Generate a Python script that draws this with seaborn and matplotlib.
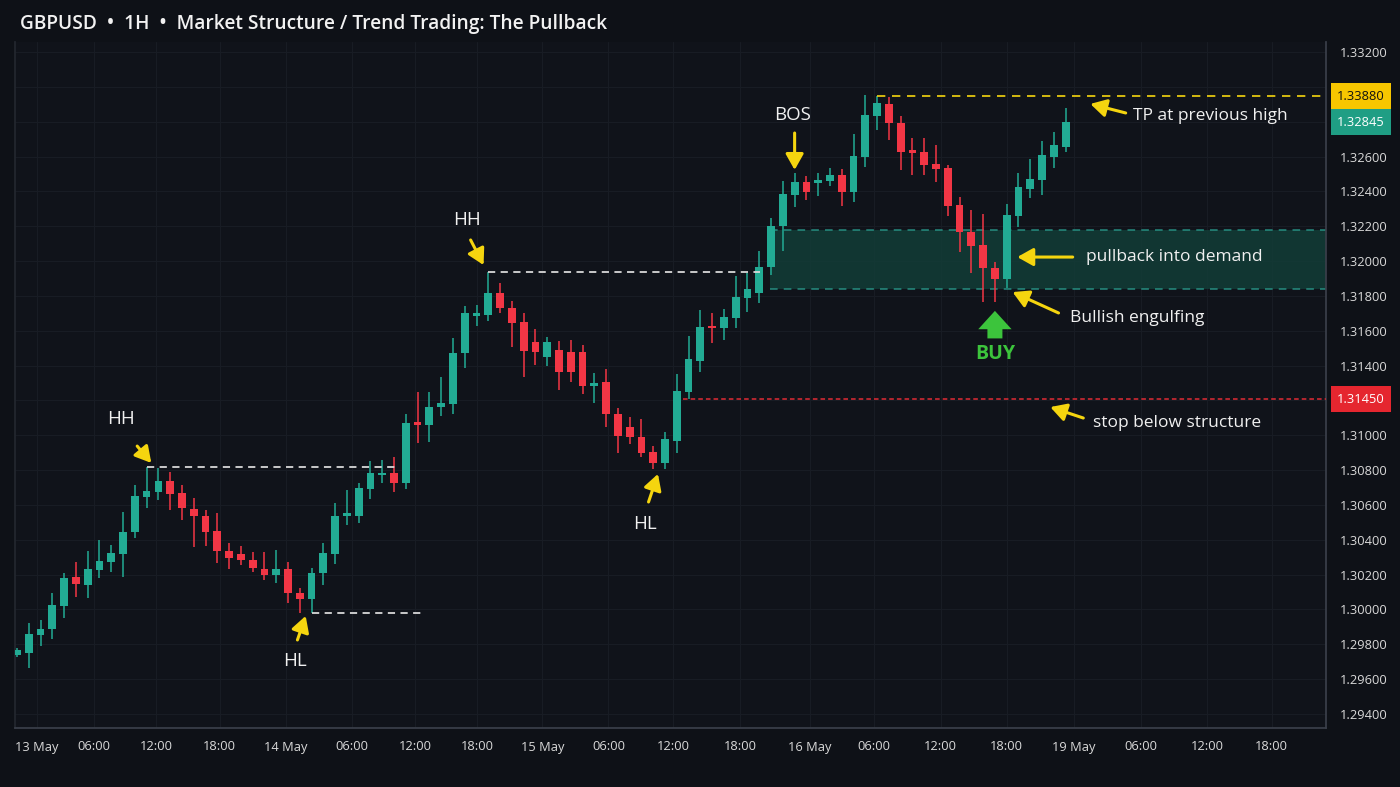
import matplotlib
matplotlib.use("Agg")
import matplotlib.pyplot as plt
import numpy as np
import pandas as pd
import seaborn as sns

# %% data (GBPUSD 1H candles)
opens = [
    1.29739, 1.29750, 1.29854, 1.29888, 1.30020, 1.30186, 1.30141, 1.30227, 1.30273, 1.30319,
    1.30445, 1.30646, 1.30674, 1.30738, 1.30669, 1.30577, 1.30537, 1.30451, 1.30336, 1.30319,
    1.30284, 1.30232, 1.30198, 1.30232, 1.30095, 1.30060, 1.30209, 1.30319, 1.30537, 1.30537,
    1.30692, 1.30772, 1.30783, 1.30726, 1.31076, 1.31059, 1.31162, 1.31180, 1.31472, 1.31685,
    1.31690, 1.31817, 1.31731, 1.31650, 1.31535, 1.31449, 1.31489, 1.31478, 1.31478, 1.31283,
    1.31306, 1.31122, 1.31047, 1.30990, 1.30904, 1.30841, 1.30967, 1.31248, 1.31426, 1.31627,
    1.31616, 1.31673, 1.31788, 1.31817, 1.31966, 1.32201, 1.32379, 1.32454, 1.32448, 1.32460,
    1.32494, 1.32396, 1.32597, 1.32833, 1.32902, 1.32792, 1.32637, 1.32626, 1.32557, 1.32534,
    1.32322, 1.32167, 1.32092, 1.31960, 1.31897, 1.32259, 1.32414, 1.32465, 1.32597, 1.32655]
closes = [
    1.29767, 1.29859, 1.29888, 1.30026, 1.30181, 1.30146, 1.30232, 1.30278, 1.30324, 1.30445,
    1.30651, 1.30680, 1.30738, 1.30663, 1.30583, 1.30537, 1.30445, 1.30336, 1.30296, 1.30284,
    1.30238, 1.30198, 1.30232, 1.30095, 1.30060, 1.30209, 1.30324, 1.30537, 1.30554, 1.30697,
    1.30783, 1.30783, 1.30726, 1.31070, 1.31059, 1.31162, 1.31185, 1.31472, 1.31702, 1.31702,
    1.31817, 1.31731, 1.31644, 1.31484, 1.31478, 1.31535, 1.31363, 1.31363, 1.31283, 1.31300,
    1.31122, 1.30996, 1.30990, 1.30898, 1.30841, 1.30979, 1.31254, 1.31438, 1.31621, 1.31616,
    1.31679, 1.31794, 1.31840, 1.31966, 1.32201, 1.32385, 1.32454, 1.32396, 1.32465, 1.32494,
    1.32396, 1.32603, 1.32838, 1.32907, 1.32792, 1.32626, 1.32620, 1.32551, 1.32528, 1.32316,
    1.32167, 1.32086, 1.31960, 1.31897, 1.32264, 1.32425, 1.32471, 1.32609, 1.32666, 1.32798]
highs = [
    1.29779, 1.29922, 1.29940, 1.30095, 1.30209, 1.30273, 1.30336, 1.30399, 1.30370, 1.30560,
    1.30715, 1.30818, 1.30812, 1.30789, 1.30715, 1.30640, 1.30571, 1.30554, 1.30382, 1.30364,
    1.30330, 1.30330, 1.30341, 1.30273, 1.30123, 1.30238, 1.30382, 1.30611, 1.30686, 1.30726,
    1.30852, 1.30858, 1.30875, 1.31122, 1.31248, 1.31248, 1.31334, 1.31558, 1.31742, 1.31748,
    1.31937, 1.31874, 1.31771, 1.31702, 1.31610, 1.31564, 1.31541, 1.31547, 1.31518, 1.31357,
    1.31380, 1.31157, 1.31105, 1.31093, 1.30938, 1.31019, 1.31352, 1.31570, 1.31719, 1.31702,
    1.31725, 1.31914, 1.31931, 1.32058, 1.32247, 1.32460, 1.32505, 1.32488, 1.32505, 1.32534,
    1.32528, 1.32729, 1.32953, 1.32947, 1.32942, 1.32833, 1.32706, 1.32706, 1.32666, 1.32551,
    1.32368, 1.32293, 1.32270, 1.31995, 1.32328, 1.32505, 1.32586, 1.32689, 1.32741, 1.32879]
lows = [
    1.29727, 1.29664, 1.29790, 1.29831, 1.29951, 1.30072, 1.30066, 1.30181, 1.30215, 1.30186,
    1.30410, 1.30583, 1.30628, 1.30571, 1.30514, 1.30359, 1.30364, 1.30267, 1.30232, 1.30255,
    1.30215, 1.30169, 1.30152, 1.30037, 1.29980, 1.29980, 1.30141, 1.30261, 1.30485, 1.30496,
    1.30634, 1.30726, 1.30674, 1.30692, 1.30956, 1.30961, 1.31111, 1.31122, 1.31386, 1.31627,
    1.31656, 1.31702, 1.31507, 1.31334, 1.31403, 1.31398, 1.31260, 1.31306, 1.31237, 1.31185,
    1.31047, 1.30898, 1.30950, 1.30875, 1.30806, 1.30806, 1.30898, 1.31208, 1.31363, 1.31530,
    1.31547, 1.31616, 1.31708, 1.31759, 1.31920, 1.32058, 1.32310, 1.32350, 1.32373, 1.32431,
    1.32316, 1.32339, 1.32540, 1.32752, 1.32695, 1.32523, 1.32494, 1.32494, 1.32454, 1.32259,
    1.32052, 1.31931, 1.31765, 1.31765, 1.31845, 1.32195, 1.32362, 1.32379, 1.32534, 1.32626]

time_labels = ["13 May", "06:00", "12:00", "18:00", "14 May", "06:00", "12:00", "18:00",
               "15 May", "06:00", "12:00", "18:00", "16 May", "06:00", "12:00", "18:00",
               "19 May", "06:00", "12:00", "18:00"]
# where each time label sits, in candle-index units
time_ticks = [1.66, 6.54, 11.8, 17.2, 22.8, 28.4, 33.8, 39.05, 44.6, 50.2,
              55.7, 61.4, 67.3, 72.75, 78.4, 84.0, 89.7, 95.4, 101.0, 106.5]
price_ticks = [1.294, 1.296, 1.298, 1.300, 1.302, 1.304, 1.306, 1.308, 1.310, 1.312,
               1.314, 1.316, 1.318, 1.320, 1.322, 1.324, 1.326, 1.328, 1.330, 1.332]
hidden_ticks = [1.312, 1.328]   # covered by the price tags in the original

hh1_level = 1.30818
hl1_level = 1.29980
hh2_level = 1.31937
tp_level = 1.32947
stop_level = 1.31208
zone_low, zone_high = 1.31840, 1.32178
tp_label, last_label, stop_label = "1.33880", "1.32845", "1.31450"

df = pd.DataFrame({"open": opens, "high": highs, "low": lows, "close": closes})
df["idx"] = np.arange(len(df))
df["up"] = df["close"] >= df["open"]

# %% style
BG = "#0e1117"
PANEL = "#10131a"
GREEN = "#22ab94"
RED = "#f23645"
YELLOW = "#f5d50f"
TXT = "#f0f0f0"

sns.set_theme(style="dark", rc={"axes.facecolor": PANEL, "figure.facecolor": BG,
                                "grid.color": "#1a1e27", "axes.edgecolor": "#2e333d"})
plt.rcParams["font.family"] = ["Open Sans", "DejaVu Sans"]

fig = plt.figure(figsize=(14, 7.87), dpi=100)
ax = fig.add_axes([15 / 1400, 59 / 787, 1311 / 1400, 686 / 787])
ax.set_facecolor(PANEL)

# candles
colors = np.where(df["up"], GREEN, RED)
ax.vlines(df["idx"], df["low"], df["high"], colors=colors, lw=1.1, zorder=3)
body_lo = np.minimum(df["open"], df["close"])
body_h = np.maximum((df["close"] - df["open"]).abs(), 0.00004)
ax.bar(df["idx"], body_h, bottom=body_lo, width=0.66, color=colors, lw=0, zorder=4)

xmax = 111.1
# demand zone
ax.fill_between([63.9, xmax], zone_low, zone_high, color="#123f39", alpha=0.8, lw=0, zorder=1)
for lvl in (zone_low, zone_high):
    ax.plot([63.9, xmax], [lvl, lvl], color="#2a9d8f", lw=1.1, ls=(0, (5, 4)), alpha=0.85, zorder=2)

# structure lines
dash = (0, (4, 3))
ax.plot([11, 32.1], [hh1_level] * 2, color="#d8d8d8", lw=1.3, ls=dash, zorder=5)
ax.plot([25, 34.5], [hl1_level] * 2, color="#d8d8d8", lw=1.3, ls=dash, zorder=5)
ax.plot([40, 63.1], [hh2_level] * 2, color="#d8d8d8", lw=1.3, ls=dash, zorder=5)
ax.plot([73, xmax], [tp_level] * 2, color=YELLOW, lw=1.2, ls=(0, (5, 4)), zorder=5)
ax.plot([56.5, xmax], [stop_level] * 2, color="#e02b35", lw=1.1, ls=(0, (3, 2)), zorder=5)

# axes
ax.set_xlim(-0.17, xmax)
ax.set_ylim(1.293197, 1.332574)
ax.set_xticks(time_ticks)
ax.set_xticklabels(time_labels)
ax.set_yticks(price_ticks)
ax.set_yticklabels(["" if p in hidden_ticks else f"{p:.5f}" for p in price_ticks])
ax.yaxis.tick_right()
ax.tick_params(axis="y", length=0, pad=10, labelsize=9.3, labelcolor="#d9d9d9")
ax.tick_params(axis="x", length=0, pad=9, labelsize=9.3, labelcolor="#d9d9d9")
ax.grid(True, color="#181c24", lw=0.8)
ax.set_axisbelow(True)
ax.spines["top"].set_visible(False)
ax.spines["left"].set_color("#23272f")
ax.spines["right"].set_color("#3a3f4a")
ax.spines["bottom"].set_color("#3a3f4a")

# price tags on the axis
trans = ax.get_yaxis_transform()
for lvl, txt, fc, tc in [(tp_level, tp_label, "#f7c600", "#111111"),
                         (closes[-1], last_label, "#1f9e84", "white"),
                         (stop_level, stop_label, "#e5262f", "white")]:
    ax.text(1.0085, lvl, txt, transform=trans, ha="left", va="center", fontsize=9.3,
            color=tc, clip_on=False, zorder=10,
            bbox=dict(boxstyle="square,pad=0.5", fc=fc, ec="none"))

# annotations
arrow = dict(arrowstyle="-|>,head_length=0.8,head_width=0.45", color=YELLOW, lw=2.2,
             shrinkA=0, shrinkB=0)
notes = [("HH", (8.8, 1.31093), (10.2, 1.30938), (11.4, 1.30841)),
         ("HL", (23.6, 1.29704), (23.8, 1.29825), (24.5, 1.29963)),
         ("HH", (38.2, 1.32236), (38.5, 1.32121), (39.6, 1.31977)),
         ("HL", (53.3, 1.30491), (53.6, 1.30617), (54.4, 1.30778)),
         ("BOS", (65.8, 1.32838), (66.0, 1.32735), (66.0, 1.32523))]
for label, tpos, tail, head in notes:
    ax.text(*tpos, label, ha="center", va="center", fontsize=13.5, fontweight="medium",
            color=TXT, zorder=8)
    ax.annotate("", xy=head, xytext=tail, arrowprops=arrow, zorder=8)

side_notes = [("TP at previous high", (94.7, 1.32833), (94.1, 1.32850), (91.1, 1.32902)),
              ("pullback into demand", (90.7, 1.32023), (89.6, 1.32023), (84.9, 1.32023)),
              ("Bullish engulfing", (89.4, 1.31673), (88.4, 1.31702), (84.5, 1.31822)),
              ("stop below structure", (91.3, 1.31070), (90.5, 1.31099), (87.7, 1.31162))]
for label, tpos, tail, head in side_notes:
    ax.text(*tpos, label, ha="left", va="center", fontsize=12.5, color=TXT, zorder=8)
    ax.annotate("", xy=head, xytext=tail, arrowprops=arrow, zorder=8)

# BUY signal
ax.annotate("", xy=(83.0, 1.31730), xytext=(83.0, 1.31540),
            arrowprops=dict(arrowstyle="simple,head_width=2.0,head_length=1.1,tail_width=0.9",
                            color="#3cc43c", lw=0), zorder=8)
ax.text(83.0, 1.31467, "BUY", ha="center", va="center", fontsize=14, fontweight="bold",
        color="#3cc43c", zorder=8)

fig.text(20 / 1400, 1 - 24 / 787,
         "GBPUSD  \u2022  1H  \u2022  Market Structure / Trend Trading: The Pullback",
         ha="left", va="center", fontsize=13.8, fontweight="semibold", color="#f2f2f2")

fig.savefig("out.png", dpi=100, facecolor=BG)
